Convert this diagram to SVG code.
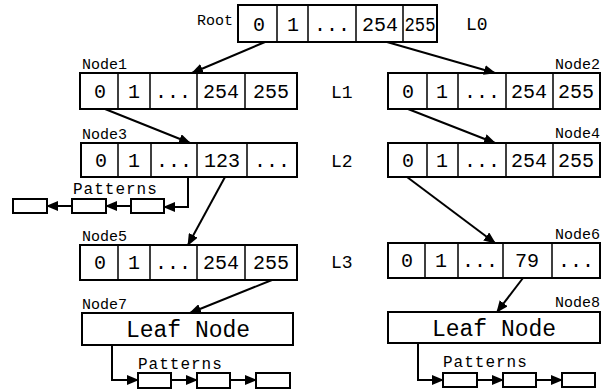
<svg xmlns="http://www.w3.org/2000/svg" width="605" height="391" viewBox="0 0 605 391">
<style>
.box{fill:#fff;stroke:#000;stroke-width:2}
.sep{stroke:#000;stroke-width:1.5}
.cell{font-family:"Liberation Mono",monospace;font-size:20px;text-anchor:middle;fill:#000}
.leaf{font-family:"Liberation Mono",monospace;font-size:23px;text-anchor:middle;fill:#000}
.lbl{font-family:"Liberation Mono",monospace;font-size:15px;fill:#000}
.pat{font-family:"Liberation Mono",monospace;font-size:16px;letter-spacing:1px;fill:#000}
.lvl{font-family:"Liberation Mono",monospace;font-size:18px;fill:#000}
.end{text-anchor:end}
.pb{fill:#fff;stroke:#000;stroke-width:2}
.c{fill:none;stroke:#000;stroke-width:2;marker-end:url(#ah)}
</style>
<defs>
<marker id="ah" markerUnits="userSpaceOnUse" markerWidth="12" markerHeight="10" refX="11" refY="5" orient="auto">
<path d="M0,0 L12,5 L0,10 Z" fill="#000"/>
</marker>
</defs>
<rect width="605" height="391" fill="#fff"/>

<g id="root">
<text class="lbl end" x="233" y="25">Root</text>
<rect class="box" x="238" y="5" width="199" height="37"/>
<path class="sep" d="M277,5V42M308,5V42M356,5V42M403,5V42"/>
<text class="cell" x="259" y="31">0</text>
<text class="cell" x="293" y="31">1</text>
<text class="cell" x="332" y="31">...</text>
<text class="cell" x="380" y="31">254</text>
<text class="cell" x="420" y="31" textLength="31" lengthAdjust="spacingAndGlyphs">255</text>
</g>
<g id="node1">
<text class="lbl" x="82" y="69">Node1</text>
<rect class="box" x="80" y="73" width="217" height="36"/>
<path class="sep" d="M118,73V109M150,73V109M197,73V109M245,73V109"/>
<text class="cell" x="100" y="98">0</text>
<text class="cell" x="134" y="98">1</text>
<text class="cell" x="173" y="98">...</text>
<text class="cell" x="221" y="98">254</text>
<text class="cell" x="271" y="98">255</text>
</g>
<g id="node2">
<text class="lbl end" x="600" y="69">Node2</text>
<rect class="box" x="388" y="73" width="212" height="36"/>
<path class="sep" d="M427,73V109M458,73V109M506,73V109M553,73V109"/>
<text class="cell" x="408" y="98">0</text>
<text class="cell" x="442" y="98">1</text>
<text class="cell" x="482" y="98">...</text>
<text class="cell" x="529" y="98">254</text>
<text class="cell" x="576" y="98">255</text>
</g>
<g id="node3">
<text class="lbl" x="82" y="139">Node3</text>
<rect class="box" x="81" y="143" width="216" height="34"/>
<path class="sep" d="M118,143V177M151,143V177M197,143V177M247,143V177"/>
<text class="cell" x="101" y="167">0</text>
<text class="cell" x="134" y="167">1</text>
<text class="cell" x="174" y="167">...</text>
<text class="cell" x="222" y="167">123</text>
<text class="cell" x="272" y="167">...</text>
</g>
<g id="node4">
<text class="lbl end" x="600" y="138">Node4</text>
<rect class="box" x="388" y="143" width="212" height="34"/>
<path class="sep" d="M427,143V177M458,143V177M506,143V177M553,143V177"/>
<text class="cell" x="408" y="167">0</text>
<text class="cell" x="442" y="167">1</text>
<text class="cell" x="482" y="167">...</text>
<text class="cell" x="529" y="167">254</text>
<text class="cell" x="576" y="167">255</text>
</g>
<g id="node5">
<text class="lbl" x="82" y="241">Node5</text>
<rect class="box" x="80" y="245" width="217" height="35"/>
<path class="sep" d="M118,245V280M150,245V280M197,245V280M245,245V280"/>
<text class="cell" x="100" y="269">0</text>
<text class="cell" x="134" y="269">1</text>
<text class="cell" x="173" y="269">...</text>
<text class="cell" x="221" y="269">254</text>
<text class="cell" x="271" y="269">255</text>
</g>
<g id="node6">
<text class="lbl end" x="600" y="239">Node6</text>
<rect class="box" x="388" y="243" width="212" height="35"/>
<path class="sep" d="M425,243V278M458,243V278M503,243V278M552,243V278"/>
<text class="cell" x="407" y="267">0</text>
<text class="cell" x="441" y="267">1</text>
<text class="cell" x="480" y="267">...</text>
<text class="cell" x="527" y="267">79</text>
<text class="cell" x="576" y="267">...</text>
</g>
<g id="node7">
<text class="lbl" x="82" y="309">Node7</text>
<rect class="box" x="82" y="313" width="211" height="32"/>
<text class="leaf" x="188" y="337">Leaf Node</text>
</g>
<g id="node8">
<text class="lbl end" x="600" y="307">Node8</text>
<rect class="box" x="388" y="312" width="212" height="31"/>
<text class="leaf" x="494" y="336">Leaf Node</text>
</g>
<g id="patterns3">
<text class="pat" x="73" y="194">Patterns</text>
<rect class="pb" x="13" y="199" width="34" height="14"/>
<rect class="pb" x="72" y="199" width="34" height="14"/>
<rect class="pb" x="131" y="199" width="33" height="14"/>
</g>
<g id="patterns7">
<text class="pat" x="138" y="369">Patterns</text>
<rect class="pb" x="138" y="373" width="33" height="15"/>
<rect class="pb" x="197" y="373" width="33" height="15"/>
<rect class="pb" x="256" y="373" width="34" height="15"/>
</g>
<g id="patterns8">
<text class="pat" x="443" y="367">Patterns</text>
<rect class="pb" x="443" y="373" width="34" height="14"/>
<rect class="pb" x="503" y="373" width="33" height="14"/>
<rect class="pb" x="562" y="373" width="33" height="14"/>
</g>
<g id="levels">
<text class="lvl" x="466" y="30">L0</text>
<text class="lvl" x="331" y="98">L1</text>
<text class="lvl" x="331" y="167">L2</text>
<text class="lvl" x="331" y="268">L3</text>
</g>
<g id="connectors">
<path class="c" d="M265,42L192,73"/>
<path class="c" d="M387,42L495,73"/>
<path class="c" d="M105,109L190,143"/>
<path class="c" d="M408,109L495,143"/>
<path class="c" d="M225,177L188,245"/>
<path class="c" d="M407,177L495,243"/>
<path class="c" d="M272,280L190,313"/>
<path class="c" d="M523,278L497,312"/>
<path class="c" d="M188,177V207H164"/>
<path class="c" d="M131,206H106"/>
<path class="c" d="M72,206H47"/>
<path class="c" d="M112,345V380H138"/>
<path class="c" d="M171,380H197"/>
<path class="c" d="M230,380H256"/>
<path class="c" d="M418,343V380H443"/>
<path class="c" d="M477,380H503"/>
<path class="c" d="M536,380H562"/>
</g>
</svg>
